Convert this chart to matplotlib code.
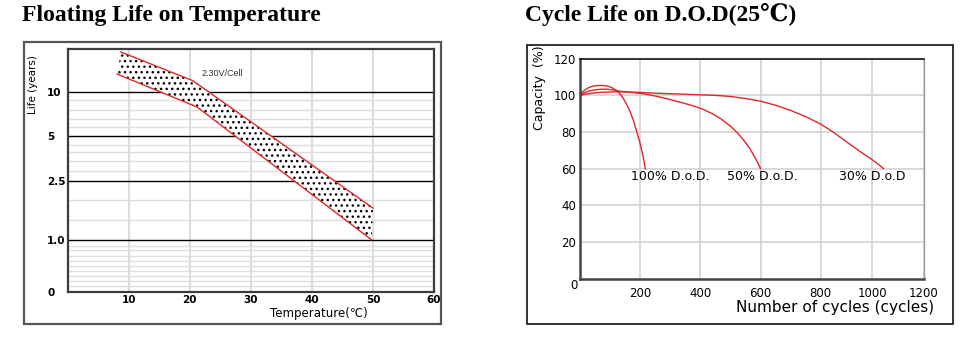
import matplotlib
matplotlib.use('Agg')
import matplotlib.pyplot as plt
from matplotlib.patches import Rectangle
import numpy as np

# floating life vs temperature, band edges (temperature, years)
upper_temp = [8.7, 20.5, 50.0]
upper_life = [18.6, 11.9, 1.64]
lower_temp = [8.1, 21.2, 49.8]
lower_life = [13.2, 7.9, 1.0]

life_ticks = [0.447, 1.0, 2.5, 5, 10]
life_labels = ['0', '1.0', '2.5', '5', '10']
life_minor = [8.8, 7.6, 6.6, 5.8, 4.4, 3.9, 3.4, 2.9, 1.85, 1.37,
              0.91, 0.85, 0.78, 0.725, 0.67, 0.62, 0.575, 0.53, 0.49]
temp_ticks = [10, 20, 30, 40, 50, 60]

# cycle life on depth of discharge (cycles, capacity %)
dod100_cyc = [0, 8, 18, 30, 45, 60, 75, 90, 105, 118, 130, 142, 154, 166, 178, 190, 200, 210, 217]
dod100_cap = [100, 101.7, 103.2, 104.3, 105.1, 105.4, 105.4, 105.1, 104.3, 103, 101.3, 98.8,
              95.5, 91.3, 86, 79.5, 73.5, 66.5, 60]

dod50_cyc = [0, 12, 28, 45, 65, 85, 105, 125, 150, 175, 200, 230, 260, 290, 320, 350, 380,
             410, 440, 470, 500, 525, 545, 565, 580, 592, 600]
dod50_cap = [100, 101.2, 102.3, 102.9, 103.3, 103.4, 103.1, 102.5, 101.9, 101.5, 101.1, 100.3,
             99.3, 98.1, 96.8, 95.5, 94.1, 92.3, 90, 87, 83.2, 79.2, 75.3, 70.8, 66.5, 62.8, 60]

dod30_cyc = [0, 20, 45, 75, 110, 150, 200, 250, 300, 350, 400, 450, 500, 550, 600, 650, 700,
             750, 800, 850, 900, 950, 1000, 1025, 1043]
dod30_cap = [100, 100.7, 101.3, 101.7, 101.9, 101.9, 101.6, 101.2, 100.9, 100.6, 100.3, 100,
             99.4, 98.3, 96.8, 94.6, 91.8, 88.4, 84.3, 79.8, 74.6, 69.6, 64.8, 62.2, 60]

dod_labels = ['100% D.o.D.', '50% D.o.D.', '30% D.o.D']
dod_label_x = [300, 605, 1000]

cyc_ticks = [200, 400, 600, 800, 1000, 1200]
cap_ticks = [20, 40, 60, 80, 100, 120]

RED = '#e0262c'
plt.rcParams['hatch.linewidth'] = 1.0

W, H = 978, 338
fig = plt.figure(figsize=(W / 100, H / 100), dpi=100)


def box(l, t, r, b):
    return [l / W, 1 - b / H, (r - l) / W, (b - t) / H]


# outer frames
fig.add_artist(Rectangle((24 / W, 1 - 324 / H), 417.5 / W, 282.3 / H,
                         transform=fig.transFigure, fill=False, ec='#555555', lw=1.6))
fig.add_artist(Rectangle((527 / W, 1 - 324 / H), 426 / W, 279 / H,
                         transform=fig.transFigure, fill=False, ec='#111111', lw=1.2))

fig.text(22 / W, 1 - 20.5 / H, 'Floating Life on Temperature', family=['Liberation Serif'],
         fontweight='bold', fontsize=17, va='baseline')
fig.text(525 / W, 1 - 21.5 / H, 'Cycle Life on D.O.D(25℃)', family=['Liberation Serif', 'DejaVu Serif'],
         fontweight='bold', fontsize=17, va='baseline')

# ---- left: floating life ----
ax1 = fig.add_axes(box(67.7, 49.3, 434, 291.7))
ax1.set_yscale('log')
ax1.set_xlim(0, 60)
ax1.set_ylim(0.447, 19.4)

for t in temp_ticks[:-1]:
    ax1.axvline(t, color='#dcdcdc', lw=1.5, zorder=0)
for v in life_minor:
    ax1.axhline(v, color='#dddddd', lw=1.0, zorder=0)
for v in life_ticks[1:]:
    ax1.axhline(v, color='black', lw=1.0, zorder=1)

band_t = np.concatenate([upper_temp, lower_temp[::-1]])
band_l = np.concatenate([upper_life, lower_life[::-1]])
ax1.fill(band_t, band_l, facecolor='white', edgecolor='black', hatch='...', lw=0, zorder=2)
ax1.plot(upper_temp, upper_life, color=RED, lw=1.0, zorder=3)
ax1.plot(lower_temp, lower_life, color=RED, lw=1.0, zorder=3)

ax1.text(25.4, 13.4, '2.30V/Cell', family=['Liberation Sans'],
         fontsize=6.5, ha='center', va='center', color='#333333')

ax1.yaxis.set_minor_locator(matplotlib.ticker.NullLocator())
ax1.set_yticks(life_ticks)
ax1.set_yticklabels(life_labels, fontweight='bold', fontsize=7.5)
for lab in ax1.get_yticklabels():
    lab.set_horizontalalignment('left')
ax1.set_xticks(temp_ticks)
ax1.set_xticklabels([str(t) for t in temp_ticks], fontweight='bold', fontsize=7.5)
ax1.tick_params(axis='y', length=0, pad=14.9)
ax1.tick_params(axis='x', length=0, pad=2.5)

ax1.set_xlabel('Temperature(℃)', fontsize=8.5, va='center')
ax1.xaxis.set_label_coords(0.686, -0.088)
ax1.set_ylabel('Life (years)', fontsize=7.5, va='center')
ax1.yaxis.set_label_coords(-0.095, 0.853)

for s in ax1.spines.values():
    s.set_color('#3c3c3c')
    s.set_linewidth(1.6)

# ---- right: cycle life ----
ax2 = fig.add_axes(box(580, 58.7, 924, 278.7))
seg_in = [0, 800, 1200]
seg_out = [0, 800, 1143]
ax2.set_xscale('function', functions=(lambda x: np.interp(x, seg_in, seg_out),
                                      lambda x: np.interp(x, seg_out, seg_in)))
ax2.set_xlim(0, 1200)
ax2.set_ylim(0, 120)
ax2.set_xticks(cyc_ticks)
ax2.set_yticks(cap_ticks)
ax2.xaxis.set_minor_locator(matplotlib.ticker.NullLocator())
ax2.grid(True, color='#d2d2d2', lw=1.2)
ax2.set_axisbelow(True)

ax2.plot(dod100_cyc, dod100_cap, color=RED, lw=1.0)
ax2.plot(dod50_cyc, dod50_cap, color=RED, lw=1.0)
ax2.plot(dod30_cyc, dod30_cap, color=RED, lw=1.0)
for lab, x in zip(dod_labels, dod_label_x):
    ax2.text(x, 55.5, lab, fontsize=9, ha='center', va='center')

ax2.tick_params(length=0, labelsize=8.5)
ax2.tick_params(axis='x', pad=6)
ax2.tick_params(axis='y', pad=3)
ax2.text(-0.017, -0.033, '0', transform=ax2.transAxes, fontsize=8.5, ha='center', va='center')

ax2.set_xlabel('Number of cycles (cycles)', fontsize=11, va='center')
ax2.xaxis.set_label_coords(0.741, -0.129)
ax2.set_ylabel('Capacity  (%)', fontsize=9, va='center')
ax2.yaxis.set_label_coords(-0.119, 0.867)

ax2.spines['left'].set_color('#444444')
ax2.spines['left'].set_linewidth(1.8)
ax2.spines['bottom'].set_color('#444444')
ax2.spines['bottom'].set_linewidth(1.8)
ax2.spines['top'].set_color('black')
ax2.spines['top'].set_linewidth(1.1)
ax2.spines['right'].set_color('#9a9a9a')
ax2.spines['right'].set_linewidth(1.0)

fig.savefig('out.png', dpi=100)
